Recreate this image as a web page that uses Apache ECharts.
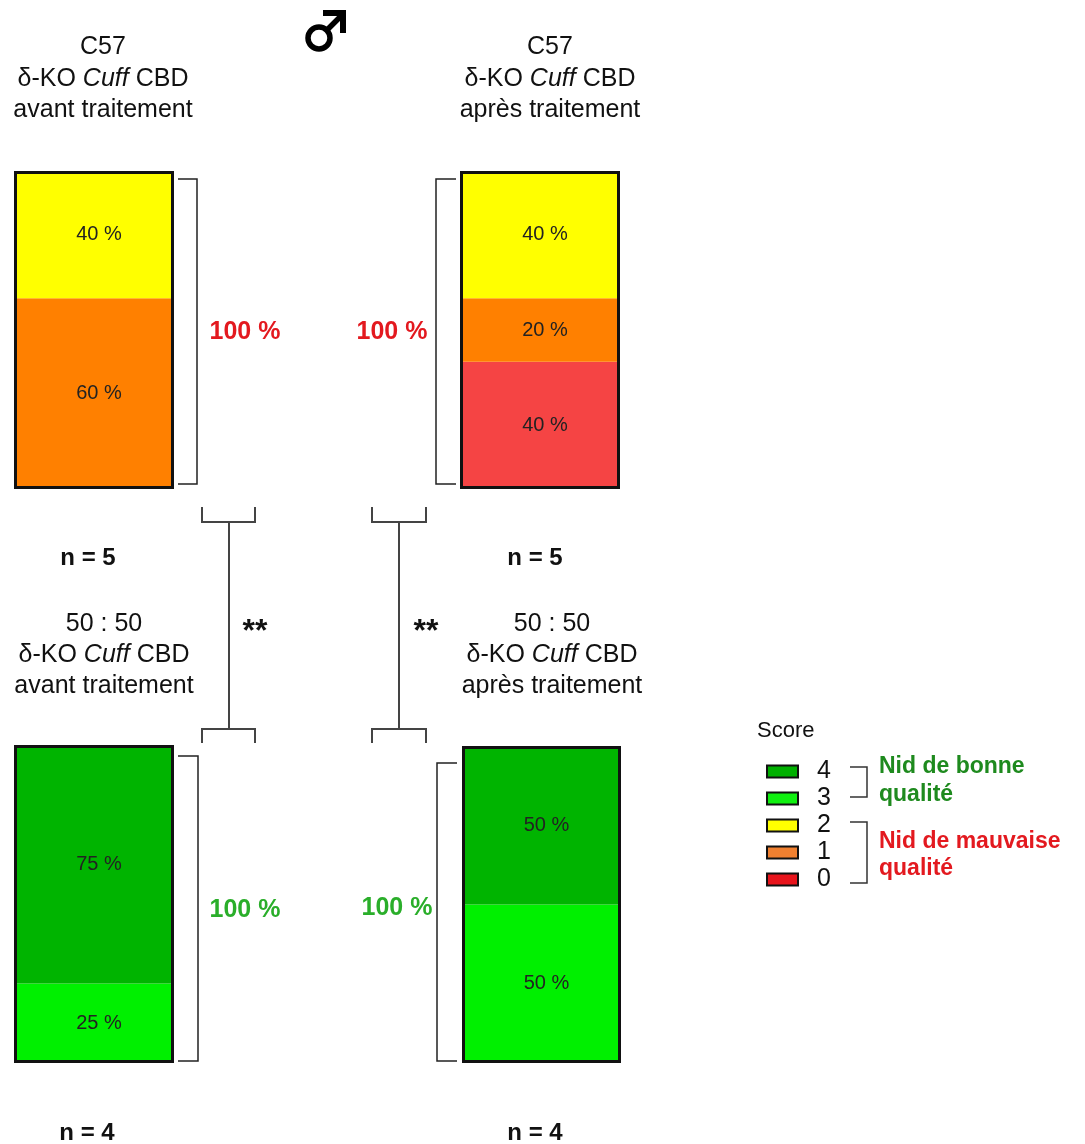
<!DOCTYPE html>
<html><head><meta charset="utf-8">
<script src="https://cdn.jsdelivr.net/npm/echarts@6/dist/echarts.min.js"></script>
<style>html,body{margin:0;padding:0;background:#fff}#c{width:1085px;height:1144px}</style>
</head><body><div id="c"></div>
<script>
// Panels (groups)
const panels = ['C57 avant traitement', 'C57 après traitement', '50:50 avant traitement', '50:50 après traitement'];
const nValues = [5, 5, 4, 4];
// Percentage of nests per score, per panel
const scoreNames = ['0', '1', '2', '3', '4'];
const score0 = [0, 40, 0, 0];
const score1 = [60, 20, 0, 0];
const score2 = [40, 40, 0, 0];
const score3 = [0, 0, 25, 50];
const score4 = [0, 0, 75, 50];
const totals = [100, 100, 100, 100];
const scoreColors = ['#f54444', '#ff8000', '#ffff00', '#00f000', '#00b400'];
const legendColors = ['#e8141c', '#f08030', '#ffff00', '#10f010', '#00b000'];

const FF = '"Liberation Sans", Arial, sans-serif';
const scoreData = [score0, score1, score2, score3, score4];

const grids = [
  {left: 14, top: 171, width: 160, height: 318},
  {left: 460, top: 171, width: 160, height: 318},
  {left: 14, top: 745, width: 160, height: 318},
  {left: 462, top: 746, width: 159, height: 317}
];

const series = [];
panels.forEach((p, i) => {
  scoreNames.forEach((s, k) => {
    series.push({
      type: 'bar', name: s, stack: 'p' + i, xAxisIndex: i, yAxisIndex: i,
      data: [scoreData[k][i]], barWidth: '100%', barGap: '-100%',
      itemStyle: {color: scoreColors[k]},
      label: {show: true, position: 'inside', offset: [5, 0], fontSize: 20, fontFamily: FF, color: '#222',
        formatter: (q) => q.value ? q.value + ' %' : ''},
      emphasis: {disabled: true}, z: 2
    });
  });
  series.push({
    type: 'bar', name: 'frame', xAxisIndex: i, yAxisIndex: i, data: [totals[i]],
    barWidth: '100%', barGap: '-100%', silent: true,
    itemStyle: {color: 'rgba(0,0,0,0)', borderColor: '#111', borderWidth: 3}, z: 5
  });
});

function txt(x, y, text, opt) {
  opt = opt || {};
  return {type: 'text', z: 10, style: Object.assign({
    x: x, y: y, text: text, fill: opt.fill || '#111',
    font: (opt.style || 'normal') + ' ' + (opt.weight || 'normal') + ' ' + (opt.size || 25) + 'px ' + FF,
    textAlign: opt.align || 'center', textVerticalAlign: 'middle',
    align: opt.align || 'center', verticalAlign: 'middle'
  }, opt.extra || {})};
}
function richLine(x, y) {
  return {type: 'text', z: 10, style: {
    x: x, y: y, text: 'δ-KO {i|Cuff} CBD', fill: '#111',
    fontSize: 25, fontFamily: FF,
    textAlign: 'center', textVerticalAlign: 'middle', align: 'center', verticalAlign: 'middle',
    rich: {i: {fontStyle: 'italic', fontSize: 25, fontFamily: FF, fill: '#111', color: '#111'}}
  }};
}
function pl(points, color, w, extra) {
  return {type: 'polyline', z: 10, shape: {points: points},
    style: Object.assign({stroke: color || '#222', lineWidth: w || 1.5, fill: null}, extra || {})};
}

const RED = '#e3191f', GREEN = '#2aae2a', DGREEN = '#1e8a1e';
const graphic = [
  // male symbol
  {type: 'circle', z: 10, shape: {cx: 319, cy: 38, r: 11}, style: {fill: null, stroke: '#000', lineWidth: 5.5}},
  pl([[327, 30], [341, 16]], '#000', 5.5),
  pl([[323, 13], [343, 13], [343, 33]], '#000', 6, {lineJoin: 'miter', lineCap: 'butt'}),
  txt(103, 47, 'C57'), richLine(103, 79), txt(103, 110, 'avant traitement'),
  txt(550, 47, 'C57'), richLine(550, 79), txt(550, 110, 'après traitement'),
  txt(104, 624, '50 : 50'), richLine(104, 655), txt(104, 686, 'avant traitement'),
  txt(552, 624, '50 : 50'), richLine(552, 655), txt(552, 686, 'après traitement'),
  txt(88, 558, 'n = ' + nValues[0], {weight: 'bold', size: 24}),
  txt(535, 558, 'n = ' + nValues[1], {weight: 'bold', size: 24}),
  txt(87, 1133, 'n = ' + nValues[2], {weight: 'bold', size: 24}),
  txt(535, 1133, 'n = ' + nValues[3], {weight: 'bold', size: 24}),
  // panel brackets
  pl([[178,179],[197,179],[197,484],[178,484]]),
  pl([[456,179],[436,179],[436,484],[456,484]]),
  pl([[178,756],[198,756],[198,1061],[178,1061]]),
  pl([[457,763],[437,763],[437,1061],[457,1061]]),
  txt(245, 332, '100 %', {weight: 'bold', size: 25, fill: RED}),
  txt(392, 332, '100 %', {weight: 'bold', size: 25, fill: RED}),
  txt(245, 910, '100 %', {weight: 'bold', size: 25, fill: GREEN}),
  txt(397, 908, '100 %', {weight: 'bold', size: 25, fill: GREEN}),
  // significance brackets
  pl([[202,507],[202,522],[255,522],[255,507]], '#444', 2),
  pl([[229,522],[229,729]], '#444', 2),
  pl([[202,743],[202,729],[255,729],[255,743]], '#444', 2),
  pl([[372,507],[372,522],[426,522],[426,507]], '#444', 2),
  pl([[399,522],[399,729]], '#444', 2),
  pl([[372,743],[372,729],[426,729],[426,743]], '#444', 2),
  txt(255, 632, '**', {weight: 'bold', size: 32}),
  txt(426, 632, '**', {weight: 'bold', size: 32}),
  // legend decorations
  txt(757, 731, 'Score', {align: 'left', size: 22}),
  pl([[850,767],[867,767],[867,797],[850,797]], '#333', 1.5),
  pl([[850,822],[867,822],[867,883],[850,883]], '#333', 1.5),
  txt(879, 767, 'Nid de bonne', {align: 'left', weight: 'bold', size: 23, fill: DGREEN}),
  txt(879, 795, 'qualité', {align: 'left', weight: 'bold', size: 23, fill: DGREEN}),
  txt(879, 842, 'Nid de mauvaise', {align: 'left', weight: 'bold', size: 23, fill: RED}),
  txt(879, 869, 'qualité', {align: 'left', weight: 'bold', size: 23, fill: RED})
];

const legendOrder = ['4', '3', '2', '1', '0'];
const option = {
  backgroundColor: '#fff',
  animation: false,
  grid: grids.map(g => Object.assign({containLabel: false}, g)),
  xAxis: grids.map((g, i) => ({type: 'category', gridIndex: i, data: [panels[i]], show: false})),
  yAxis: grids.map((g, i) => ({type: 'value', gridIndex: i, min: 0, max: 100, show: false})),
  legend: {
    orient: 'vertical', left: 761, top: 754, itemWidth: 31, itemHeight: 12, itemGap: 2,
    selectedMode: false,
    data: legendOrder.map(n => ({name: n, icon: 'rect',
      itemStyle: {color: legendColors[+n], borderColor: '#111', borderWidth: 2}})),
    textStyle: {fontSize: 25, fontFamily: FF, color: '#111', lineHeight: 22, padding: [0, 0, 0, 14]}
  },
  series: series,
  graphic: graphic
};
const chart = echarts.init(document.getElementById('c'), null, {renderer: 'canvas'});
chart.setOption(option);
</script>
</body></html>
